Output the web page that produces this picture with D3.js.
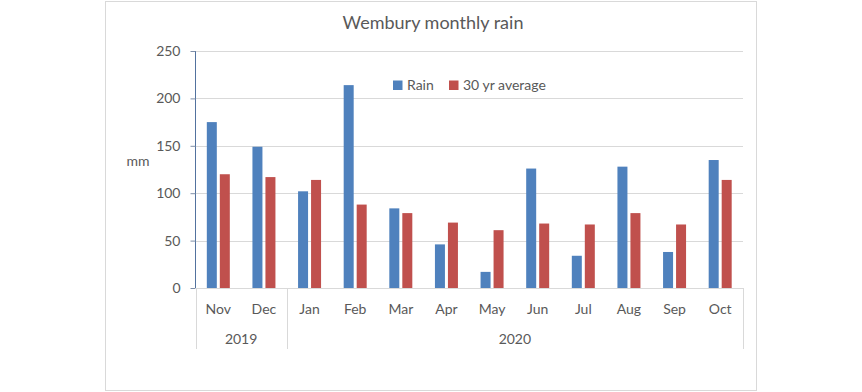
<!DOCTYPE html>
<html>
<head>
<meta charset="utf-8">
<script src="https://cdn.jsdelivr.net/npm/d3@7"></script>
<style>
html,body{margin:0;padding:0;background:#fff;}
svg{display:block;}
text{font-family:Lato,"Noto Sans",sans-serif;fill:#595959;}
</style>
</head>
<body>
<svg id="chart" width="862" height="392"></svg>
<script>
const months = ["Nov","Dec","Jan","Feb","Mar","Apr","May","Jun","Jul","Aug","Sep","Oct"];
const years = [{label:"2019", from:"Nov", to:"Dec"},{label:"2020", from:"Jan", to:"Oct"}];
const seriesNames = ["Rain","30 yr average"];
const rain = [175, 149, 102, 214, 84, 46, 17, 126, 34, 128, 38, 135];
const avg30 = [120, 117, 114, 88, 79, 69, 61, 68, 67, 79, 67, 114];
const yTicks = [0, 50, 100, 150, 200, 250];
const colors = ["#4F81BD", "#C0504D"];

(function(){
const svg = d3.select("#chart");
const grid = "#D9D9D9";

// chart area border
svg.append("rect").attr("x",105.5).attr("y",1.5).attr("width",651).attr("height",389)
  .attr("fill","#fff").attr("stroke",grid);

const pLeft = 195.5, pRight = 743, pTop = 51, pBottom = 288;
const y = d3.scaleLinear().domain([0,250]).range([pBottom, pTop]);
const x0 = d3.scaleBand().domain(months).range([pLeft, pRight]).padding(0);
const bw = x0.bandwidth();
const x1 = d3.scaleBand().domain(seriesNames).range([(bw-23)/2, (bw+23)/2]).paddingInner(3/13).paddingOuter(0);

// gridlines
svg.append("g").selectAll("line").data(yTicks.filter(d=>d>0)).join("line")
  .attr("x1",pLeft).attr("x2",pRight)
  .attr("y1",d=>Math.round(y(d))+0.5).attr("y2",d=>Math.round(y(d))+0.5)
  .attr("stroke",grid);

// bars
const data = months.map((m,i)=>({m, vals:[{s:seriesNames[0],v:rain[i]},{s:seriesNames[1],v:avg30[i]}]}));
const groups = svg.append("g").selectAll("g").data(data).join("g")
  .attr("transform",d=>`translate(${x0(d.m)},0)`);
groups.selectAll("rect").data(d=>d.vals).join("rect")
  .attr("x",d=>x1(d.s)).attr("width",x1.bandwidth())
  .attr("y",d=>y(d.v)).attr("height",d=>y(0)-y(d.v))
  .attr("fill",(d,i)=>colors[i]);

// y axis
const yAxis = d3.axisLeft(y).tickValues(yTicks).tickSize(5).tickPadding(10);
const gy = svg.append("g").attr("transform",`translate(${pLeft},0)`).call(yAxis);
gy.select(".domain").attr("stroke","#52729E").attr("d",`M0,${pTop}V${pBottom}`);
gy.selectAll(".tick line").attr("stroke","#7F8FA8");
gy.selectAll(".tick text").attr("font-size","14px").attr("font-family","Lato").attr("fill","#595959");

// x axis line and category separators
svg.append("line").attr("x1",pLeft).attr("x2",pRight).attr("y1",pBottom+0.5).attr("y2",pBottom+0.5).attr("stroke",grid);
const seps = [pLeft, x0("Jan"), pRight];
svg.append("g").selectAll("line").data(seps).join("line")
  .attr("x1",d=>Math.round(d)+0.5).attr("x2",d=>Math.round(d)+0.5)
  .attr("y1",pBottom).attr("y2",349).attr("stroke",grid);

// month labels
svg.append("g").selectAll("text").data(months).join("text")
  .attr("x",d=>x0(d)+bw/2).attr("y",314).attr("text-anchor","middle")
  .attr("font-size","14px").text(d=>d);

// year labels
svg.append("g").selectAll("text").data(years).join("text")
  .attr("x",d=>(x0(d.from)+x0(d.to)+bw)/2).attr("y",344).attr("text-anchor","middle")
  .attr("font-size","14px").text(d=>d.label);

// y axis title
svg.append("text").attr("x",138).attr("y",166).attr("text-anchor","middle")
  .attr("font-size","14px").text("mm");

// title
svg.append("text").attr("x",433).attr("y",29).attr("text-anchor","middle")
  .attr("font-size","18px").text("Wembury monthly rain");

// legend
const legX = [393, 449];
const leg = svg.append("g").selectAll("g").data(seriesNames).join("g")
  .attr("transform",(d,i)=>`translate(${legX[i]},0)`);
leg.append("rect").attr("x",0).attr("y",80.5).attr("width",9.5).attr("height",9.5).attr("fill",(d,i)=>colors[i]);
leg.append("text").attr("x",14).attr("y",90).attr("font-size","14px").text(d=>d);
})();
</script>
</body>
</html>
